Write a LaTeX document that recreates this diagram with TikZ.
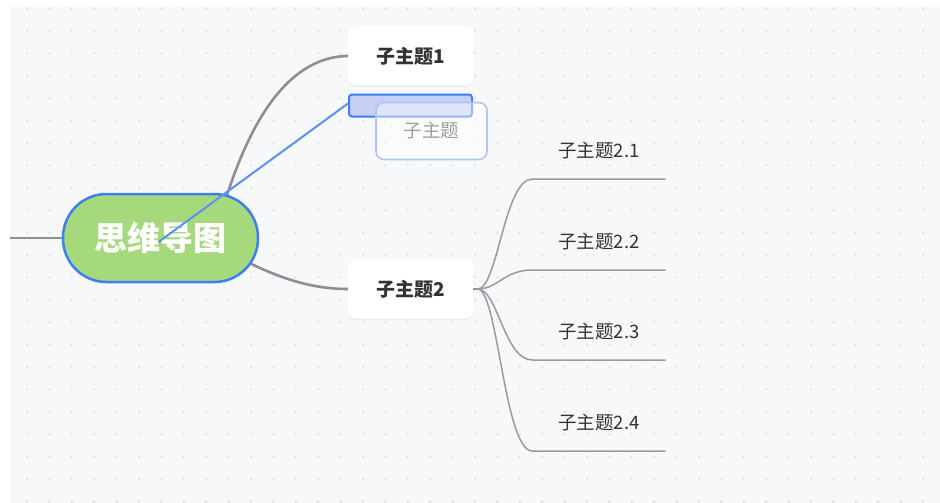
\documentclass[tikz,border=0pt]{standalone}
\usepackage{fontspec}
\usetikzlibrary{backgrounds,shadows}
\newfontfamily\cjk{Noto Sans CJK SC}
\definecolor{panel}{HTML}{F7F8FA}
\definecolor{dotc}{HTML}{D6D8DC}
\definecolor{branchc}{HTML}{8E8E93}
\definecolor{subc}{HTML}{9A9A9F}
\definecolor{rootfill}{HTML}{A5D97C}
\definecolor{blueline}{HTML}{3D7EF2}
\definecolor{slotfill}{HTML}{C7CFF4}
\definecolor{ghostc}{HTML}{AFC3F6}
\definecolor{textc}{HTML}{333333}
\tikzset{
  root/.style={draw=blueline, line width=2.5pt, fill=rootfill, rounded corners=43.5pt,
    minimum width=195pt, minimum height=88pt, inner sep=0pt, text=white,
    font=\cjk\bfseries\fontsize{33pt}{33pt}\selectfont},
  topic/.style={fill=white, rounded corners=8pt, minimum width=125pt, minimum height=59pt,
    inner sep=0pt, text=textc, font=\cjk\bfseries\fontsize{19pt}{21pt}\selectfont,
    drop shadow={fill=black, opacity=0.05, shadow xshift=0pt, shadow yshift=-1.5pt}},
  slotbox/.style={draw=blueline, line width=2pt, fill=slotfill, rounded corners=3pt,
    minimum width=123pt, minimum height=22pt, inner sep=0pt},
  ghost/.style={draw=ghostc, line width=1.6pt, fill=white, fill opacity=0.45, text opacity=1,
    rounded corners=8pt, minimum width=111pt, minimum height=57pt, inner sep=0pt,
    text=black!38, font=\cjk\fontsize{18.5pt}{21pt}\selectfont},
  sub/.style={anchor=south, minimum width=133pt, text height=13pt, text depth=0pt,
    inner xsep=0pt, inner ysep=21pt, text=textc, font=\cjk\fontsize{18.5pt}{21pt}\selectfont},
  branch/.style={draw=branchc, line width=2.6pt},
  subline/.style={draw=subc, line width=1.5pt},
  link/.style={draw=blueline!85, line width=2pt}
}
\begin{document}
\begin{tikzpicture}[x=1pt,y=-1pt]
\useasboundingbox (0,0) rectangle (940,503);

\node[root] (root) at (160.5,238) {思维导图};
\node[topic] (t1) at (410.5,56) {子主题1};
\node[topic] (t2) at (410.5,289) {子主题2};
\coordinate (edge) at (10,238);
\coordinate (fork) at ([xshift=4.5pt]t2.east);

\begin{scope}[on background layer]
\fill[panel] (10,7) rectangle (940,503);
\foreach \i in {0,...,40}
  \foreach \j in {0,...,22}
    \fill[dotc] (27+22.4*\i,8.5+22.4*\j) circle[radius=1.1pt];
\draw[branch] (edge) -- (root.west);
\draw[branch] ([shift={(55,-3)}]root.center) .. controls (240,140) and (280,57) .. (t1.west);
\draw[branch] ([shift={(55,7)}]root.center) .. controls (260,270) and (300,289) .. (t2.west);
\draw[branch] (t2.east) -- (fork);
\end{scope}

\node[slotbox] (slot) at (410.5,105.5) {};
\draw[link] ([shift={(-2,4)}]root.center) -- ([yshift=2pt]slot.west);
\node[ghost] (ghostnode) at (431.5,131) {子主题};

\def\mySubs{2.1/179, 2.2/270, 2.3/360, 2.4/451}
\foreach \n/\y [count=\i] in \mySubs {
  \node[sub] (s\i) at (599,\y) {子主题\n};
  \draw[subline] (fork) .. controls +(20,0) and +(-28,0) .. (s\i.south west) -- (s\i.south east);
}
\end{tikzpicture}
\end{document}
